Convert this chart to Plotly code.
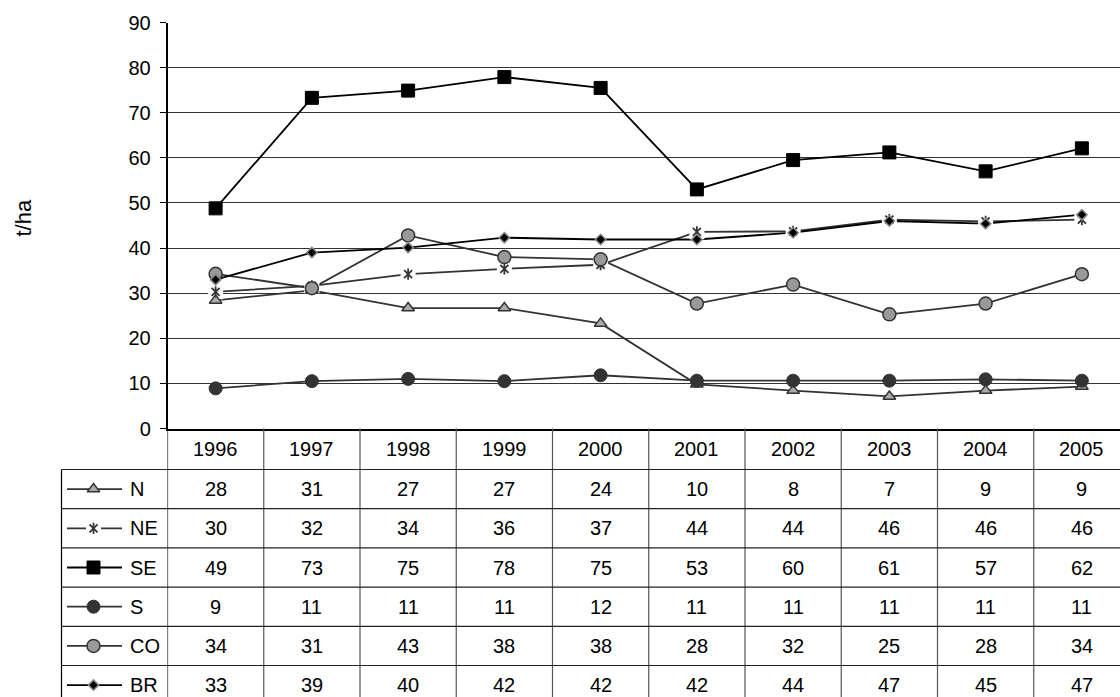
import plotly.graph_objects as go

W, H = 1120, 697

years = [1996, 1997, 1998, 1999, 2000, 2001, 2002, 2003, 2004, 2005]
regions = ["N", "NE", "SE", "S", "CO", "BR"]

# plotted values (t/ha)
n_vals = [28.4, 30.6, 26.7, 26.7, 23.3, 9.8, 8.4, 7.1, 8.4, 9.3]
ne_vals = [30.3, 31.6, 34.2, 35.4, 36.3, 43.6, 43.7, 46.3, 45.9, 46.3]
se_vals = [48.8, 73.3, 74.9, 77.9, 75.5, 53.0, 59.5, 61.2, 57.0, 62.1]
s_vals = [8.9, 10.5, 11.0, 10.5, 11.8, 10.6, 10.6, 10.6, 10.9, 10.6]
co_vals = [34.3, 31.1, 42.8, 38.0, 37.5, 27.7, 31.9, 25.3, 27.7, 34.2]
br_vals = [33.0, 39.0, 40.1, 42.3, 41.9, 41.9, 43.4, 46.0, 45.4, 47.4]

# data table below the chart
n_table = [28, 31, 27, 27, 24, 10, 8, 7, 9, 9]
ne_table = [30, 32, 34, 36, 37, 44, 44, 46, 46, 46]
se_table = [49, 73, 75, 78, 75, 53, 60, 61, 57, 62]
s_table = [9, 11, 11, 11, 12, 11, 11, 11, 11, 11]
co_table = [34, 31, 43, 38, 38, 28, 32, 25, 28, 34]
br_table = [33, 39, 40, 42, 42, 42, 44, 47, 45, 47]

y_ticks = list(range(0, 100, 10))

series = {
    "N": n_vals, "NE": ne_vals, "SE": se_vals,
    "S": s_vals, "CO": co_vals, "BR": br_vals,
}
tables = {
    "N": n_table, "NE": ne_table, "SE": se_table,
    "S": s_table, "CO": co_table, "BR": br_table,
}

line_col = {"N": "#333333", "NE": "#333333", "SE": "#000000",
            "S": "#333333", "CO": "#333333", "BR": "#000000"}
markers = {
    "N": dict(symbol="triangle-up", size=11, color="#aaaaaa", line=dict(color="#333333", width=1.5)),
    "NE": dict(symbol="x-thin-open", size=8, color="#333333", line=dict(color="#333333", width=1.8)),
    "SE": dict(symbol="square", size=13, color="#000000", line=dict(color="#000000", width=1)),
    "S": dict(symbol="circle", size=13, color="#333333", line=dict(color="#333333", width=1)),
    "CO": dict(symbol="circle", size=13, color="#999999", line=dict(color="#333333", width=1.5)),
    "BR": dict(symbol="diamond", size=8, color="#000000", line=dict(color="#888888", width=1.5)),
}
ne_bar = dict(symbol="line-ns-open", size=8, color="#333333", line=dict(color="#333333", width=1.8))
ne_box = dict(symbol="square", size=15, color="white", line=dict(width=0))

# pixel geometry
plot_left, plot_top, plot_bottom = 167.5, 22.5, 428.5
table_left = 61.5
header_bottom = 469.5
row_h = 39.2
x_right = 2005.5 - 10 / 96.3  # last column is cut off at the window edge


def py(p):
    return 1 - p / H


fig = go.Figure()

# lines first
for r in regions:
    fig.add_trace(go.Scatter(x=years, y=series[r], mode="lines",
                             line=dict(color=line_col[r], width=1.8),
                             hoverinfo="skip", showlegend=False))
# white box behind NE star
fig.add_trace(go.Scatter(x=years, y=ne_vals, mode="markers", marker=ne_box,
                         hoverinfo="skip", showlegend=False))
for r in regions:
    fig.add_trace(go.Scatter(x=years, y=series[r], mode="markers", name=r,
                             marker=markers[r], showlegend=False))
    if r == "NE":
        fig.add_trace(go.Scatter(x=years, y=ne_vals, mode="markers", marker=ne_bar,
                                 hoverinfo="skip", showlegend=False))

# legend keys inside the table (pixel overlay axes)
for i, r in enumerate(regions):
    cy = header_bottom + row_h * (i + 0.5)
    fig.add_trace(go.Scatter(x=[67, 122], y=[cy, cy], mode="lines", xaxis="x2", yaxis="y2",
                             line=dict(color=line_col[r], width=1.8),
                             hoverinfo="skip", showlegend=False))
    if r == "NE":
        fig.add_trace(go.Scatter(x=[93.5], y=[cy], mode="markers", xaxis="x2", yaxis="y2",
                                 marker=ne_box, hoverinfo="skip", showlegend=False))
    fig.add_trace(go.Scatter(x=[93.5], y=[cy], mode="markers", xaxis="x2", yaxis="y2",
                             marker=markers[r], hoverinfo="skip", showlegend=False))
    if r == "NE":
        fig.add_trace(go.Scatter(x=[93.5], y=[cy], mode="markers", xaxis="x2", yaxis="y2",
                                 marker=ne_bar, hoverinfo="skip", showlegend=False))

font = dict(family="Liberation Sans, Arial, sans-serif", size=20, color="#000000")

shapes = []
annotations = []
# vertical column boundaries
for yr in years:
    shapes.append(dict(type="line", xref="x", yref="paper", x0=yr - 0.5, x1=yr - 0.5,
                       y0=py(plot_bottom), y1=py(H + 20),
                       line=dict(color="#555555" if yr != years[0] else "#000000", width=1.2)))
# table left border
shapes.append(dict(type="line", xref="paper", yref="paper",
                   x0=table_left / W, x1=table_left / W, y0=py(header_bottom), y1=py(H + 20),
                   line=dict(color="#000000", width=1.2)))
# horizontal row lines
for i in range(len(regions)):
    yy = header_bottom + row_h * i
    shapes.append(dict(type="line", xref="paper", yref="paper", x0=table_left / W, x1=1,
                       y0=py(yy), y1=py(yy), line=dict(color="#222222", width=1.2)))

# header years and values
for yr in years:
    annotations.append(dict(x=yr, y=py((plot_bottom + header_bottom) / 2), xref="x", yref="paper",
                            text=str(yr), showarrow=False, font=font,
                            xanchor="center", yanchor="middle"))
for i, r in enumerate(regions):
    cy = py(header_bottom + row_h * (i + 0.5))
    annotations.append(dict(x=128 / W, y=cy, xref="paper", yref="paper", text=r,
                            xanchor="left", yanchor="middle", showarrow=False, font=font))
    for yr, v in zip(years, tables[r]):
        annotations.append(dict(x=yr, y=cy, xref="x", yref="paper", text=str(v),
                                xanchor="center", yanchor="middle", showarrow=False, font=font))

annotations.append(dict(x=23.5 / W, y=py(218), xref="paper", yref="paper", text="t/ha",
                        textangle=-90, xanchor="center", yanchor="middle",
                        showarrow=False, font=dict(font, size=22)))

fig.update_layout(
    width=W, height=H, autosize=False,
    margin=dict(l=0, r=0, t=0, b=0, pad=0),
    paper_bgcolor="white", plot_bgcolor="rgba(0,0,0,0)",
    font=font,
    showlegend=False,
    shapes=shapes,
    annotations=annotations,
    xaxis=dict(domain=[plot_left / W, 1], range=[1995.5, x_right], automargin=False,
               showticklabels=False, ticks="", showgrid=False, zeroline=False,
               showline=True, linecolor="#000000", linewidth=2),
    yaxis=dict(domain=[py(plot_bottom), py(plot_top)], range=[0, 90], automargin=False,
               tickvals=y_ticks, ticks="outside", ticklen=6, tickcolor="#000000",
               ticklabelstandoff=5,
               showgrid=True, gridcolor="#333333", gridwidth=1, zeroline=False,
               showline=True, linecolor="#000000", linewidth=1.5, tickfont=font),
    xaxis2=dict(domain=[0, 1], range=[0, W], visible=False, fixedrange=True, automargin=False),
    yaxis2=dict(domain=[0, 1], range=[H, 0], visible=False, fixedrange=True, automargin=False),
)

fig.write_html("out.html", config={"displayModeBar": False},
               post_script="document.body.style.margin='0';document.body.style.overflow='hidden';")
